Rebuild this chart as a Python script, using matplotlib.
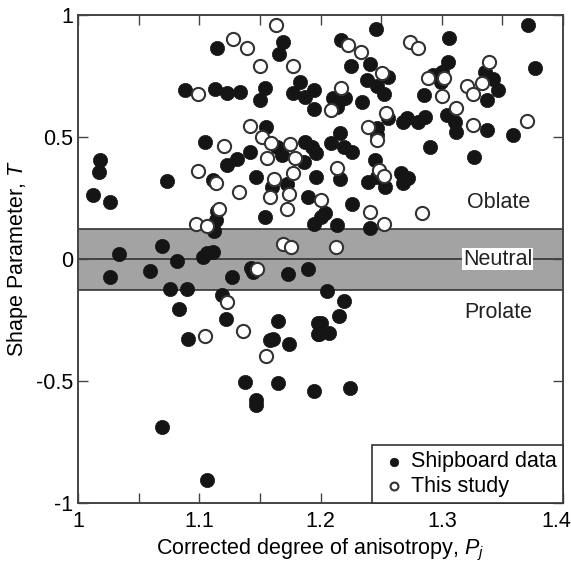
import matplotlib.pyplot as plt
from matplotlib.ticker import MultipleLocator
from matplotlib.transforms import ScaledTranslation

plt.rcParams["font.family"] = ["Liberation Sans", "DejaVu Sans"]
plt.rcParams["mathtext.fontset"] = "custom"
plt.rcParams["mathtext.it"] = "Liberation Sans:italic"
plt.rcParams["mathtext.rm"] = "Liberation Sans"

# Shipboard data (filled): corrected anisotropy Pj and shape parameter T
ship_pj = [
    1.018, 1.017, 1.012, 1.026, 1.073, 1.105, 1.088, 1.115, 1.113, 1.123,
    1.134, 1.154, 1.150, 1.169, 1.166, 1.183, 1.177, 1.187, 1.195, 1.195,
    1.155, 1.142, 1.131, 1.123, 1.147, 1.111, 1.154, 1.112, 1.114, 1.115,
    1.164, 1.168, 1.172, 1.160, 1.186, 1.187, 1.193, 1.196, 1.196, 1.190,
    1.195, 1.034, 1.069, 1.082, 1.059, 1.026, 1.076, 1.090, 1.106, 1.111,
    1.103, 1.127, 1.143, 1.144, 1.173, 1.190, 1.119, 1.083, 1.122, 1.091,
    1.165, 1.158, 1.161, 1.174, 1.138, 1.165, 1.147, 1.147, 1.069, 1.106,
    1.195, 1.198, 1.198, 1.205, 1.219, 1.215, 1.200, 1.199, 1.207, 1.224,
    1.246, 1.371, 1.377, 1.306, 1.217, 1.225, 1.241, 1.256, 1.238, 1.247,
    1.252, 1.234, 1.210, 1.216, 1.220, 1.214, 1.256, 1.268, 1.271, 1.280,
    1.286, 1.247, 1.247, 1.290, 1.304, 1.311, 1.312, 1.305, 1.300, 1.293,
    1.299, 1.285, 1.336, 1.342, 1.346, 1.337, 1.337, 1.359, 1.327, 1.216,
    1.209, 1.219, 1.226, 1.216, 1.245, 1.239, 1.247, 1.253, 1.266, 1.272,
    1.268, 1.226, 1.204, 1.200, 1.214, 1.241,
]
ship_t = [
    0.406, 0.357, 0.262, 0.234, 0.320, 0.480, 0.693, 0.865, 0.697, 0.680,
    0.684, 0.701, 0.652, 0.889, 0.840, 0.725, 0.680, 0.664, 0.693, 0.615,
    0.541, 0.439, 0.410, 0.385, 0.336, 0.324, 0.172, 0.115, 0.160, 0.197,
    0.459, 0.426, 0.307, 0.295, 0.398, 0.480, 0.459, 0.434, 0.336, 0.254,
    0.143, 0.020, 0.053, -0.008, -0.049, -0.074, -0.123, -0.123, 0.025, 0.029,
    0.008, -0.074, -0.037, -0.053, -0.061, -0.041, -0.148, -0.205, -0.246, -0.328,
    -0.254, -0.332, -0.328, -0.348, -0.504, -0.508, -0.578, -0.598, -0.689, -0.906,
    -0.541, -0.262, -0.307, -0.131, -0.172, -0.234, -0.262, -0.307, -0.303, -0.529,
    0.943, 0.959, 0.783, 0.906, 0.898, 0.791, 0.799, 0.746, 0.734, 0.709,
    0.676, 0.643, 0.660, 0.652, 0.660, 0.623, 0.578, 0.561, 0.578, 0.561,
    0.582, 0.537, 0.508, 0.459, 0.590, 0.561, 0.520, 0.807, 0.766, 0.754,
    0.725, 0.672, 0.766, 0.738, 0.693, 0.652, 0.529, 0.508, 0.418, 0.516,
    0.475, 0.459, 0.439, 0.328, 0.406, 0.316, 0.336, 0.295, 0.352, 0.332,
    0.311, 0.225, 0.189, 0.172, 0.139, 0.127,
]

# This study (open circles)
study_pj = [
    1.163, 1.128, 1.139, 1.150, 1.177, 1.099, 1.142, 1.152, 1.159, 1.175,
    1.120, 1.156, 1.179, 1.099, 1.114, 1.177, 1.162, 1.174, 1.158, 1.133,
    1.172, 1.116, 1.097, 1.106, 1.169, 1.176, 1.148, 1.200, 1.123, 1.136,
    1.105, 1.155, 1.223, 1.233, 1.251, 1.274, 1.280, 1.339, 1.333, 1.321,
    1.326, 1.300, 1.289, 1.302, 1.217, 1.209, 1.254, 1.239, 1.247, 1.312,
    1.326, 1.370, 1.214, 1.248, 1.252, 1.241, 1.252, 1.284, 1.213,
]
study_t = [
    0.959, 0.902, 0.865, 0.791, 0.791, 0.676, 0.545, 0.500, 0.475, 0.471,
    0.463, 0.414, 0.414, 0.361, 0.311, 0.352, 0.328, 0.266, 0.254, 0.275,
    0.205, 0.205, 0.143, 0.135, 0.061, 0.049, -0.041, 0.242, -0.176, -0.295,
    -0.316, -0.398, 0.877, 0.848, 0.762, 0.889, 0.865, 0.807, 0.721, 0.709,
    0.676, 0.668, 0.742, 0.742, 0.701, 0.611, 0.598, 0.541, 0.488, 0.619,
    0.549, 0.566, 0.373, 0.365, 0.340, 0.193, 0.143, 0.189, 0.049,
]

neutral_half_width = 0.125
x_ticks = [1.0, 1.1, 1.2, 1.3, 1.4]
x_labels = ["1", "1.1", "1.2", "1.3", "1.4"]
y_ticks = [-1.0, -0.5, 0.0, 0.5, 1.0]
y_labels = ["-1", "-0.5", "0", "0.5", "1"]

fs = 15.5

fig = plt.figure(figsize=(5.71, 5.66), dpi=100)
ax = fig.add_axes([0.1366, 0.1113, 0.8494, 0.8622])

# neutral band
ax.axhspan(-neutral_half_width, neutral_half_width, color="#a3a3a3", zorder=0, lw=0)
for yy in (-neutral_half_width, 0, neutral_half_width):
    ax.axhline(yy, color="#333333", lw=1.2, zorder=1)

ax.scatter(ship_pj, ship_t, s=105, c="#151515", edgecolors="#151515", linewidths=0.5,
           zorder=3, label="Shipboard data")
ax.scatter(study_pj, study_t, s=90, c="white", edgecolors="#333333", linewidths=1.5,
           zorder=4, label="This study")

ax.text(1.347, 0.23, "Oblate", fontsize=fs, ha="center", va="center", color="#222222")
ax.text(1.346, 0.0, "Neutral", fontsize=fs, ha="center", va="center", color="#222222",
        bbox=dict(facecolor="white", edgecolor="none", pad=0.6), zorder=5)
ax.text(1.347, -0.22, "Prolate", fontsize=fs, ha="center", va="center", color="#222222")

ax.set_xlim(1.0, 1.4)
ax.set_ylim(-1.0, 1.0)
ax.set_xticks(x_ticks)
ax.set_xticklabels(x_labels)
ax.set_yticks(y_ticks)
ax.set_yticklabels(y_labels)
ax.xaxis.set_minor_locator(MultipleLocator(0.05))
ax.tick_params(which="both", direction="in", top=True, right=True, labelsize=fs,
               color="#444444", width=1.0, length=7)
ax.tick_params(axis="x", pad=6)
for sp in ax.spines.values():
    sp.set_color("#444444")
    sp.set_linewidth(1.4)

# last x label sits a little inside the figure edge
last = ax.get_xticklabels()[-1]
last.set_transform(last.get_transform() + ScaledTranslation(-7 / 100, 0, fig.dpi_scale_trans))

ax.set_xlabel(r"Corrected degree of anisotropy, $P_j$", fontsize=fs, labelpad=3)
ax.set_ylabel(r"Shape Parameter, $T$", fontsize=fs, labelpad=4)

leg = ax.legend(loc="lower right", bbox_to_anchor=(1.0, 0.0), borderaxespad=0,
                fontsize=fs, markerscale=0.6, handletextpad=0.1, handlelength=1.4,
                fancybox=False, framealpha=1, edgecolor="#333333", borderpad=0.3,
                labelspacing=0.15)
leg.get_frame().set_linewidth(1.2)
leg.set_zorder(6)

fig.savefig("out.png", dpi=100)
